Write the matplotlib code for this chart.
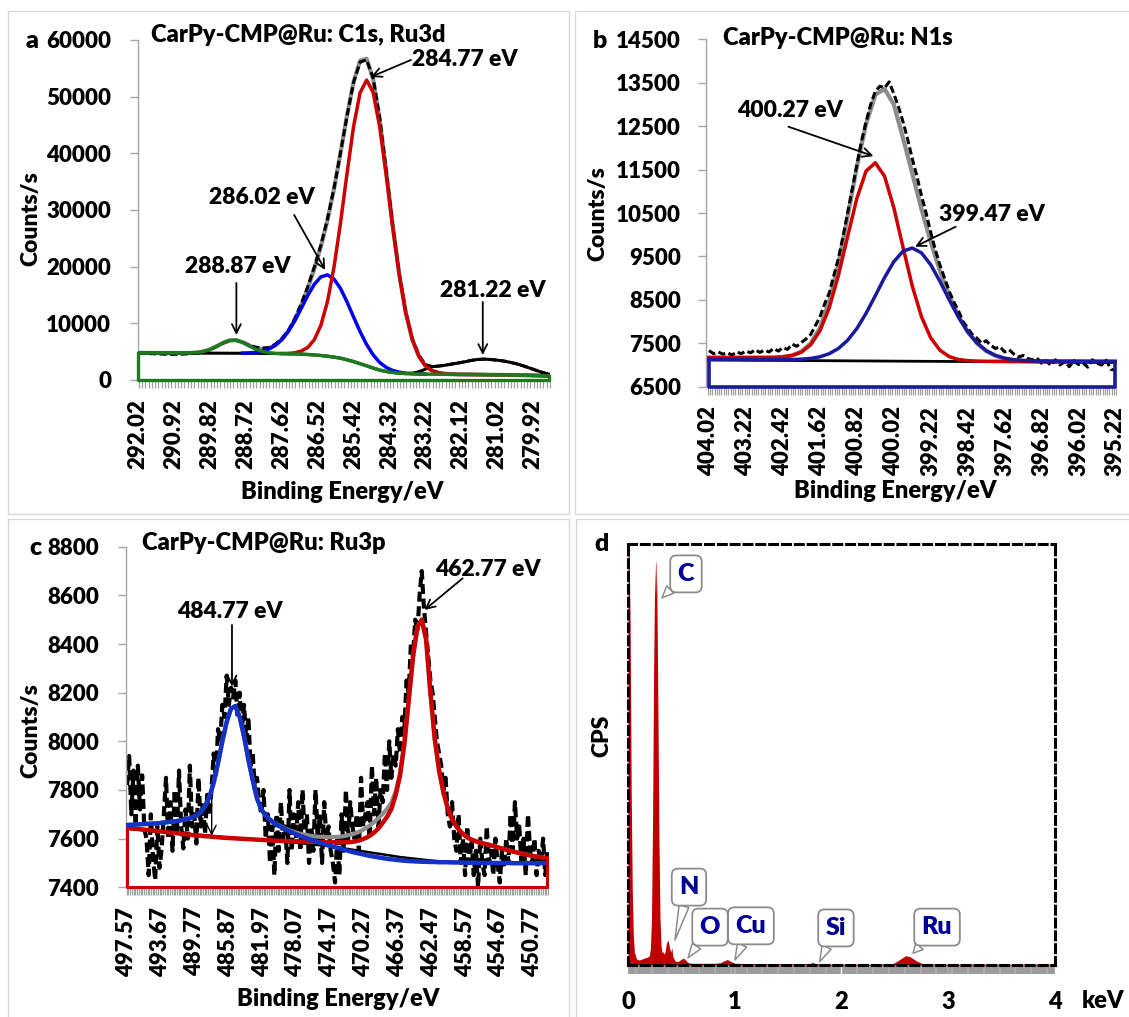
import numpy as np
import matplotlib
matplotlib.use('Agg')
import matplotlib.pyplot as plt
from matplotlib.patches import Rectangle
from matplotlib.ticker import MultipleLocator

# ---------------- DATA ----------------
# Panel a : C1s / Ru3d  (energy grid step 0.2 eV)
a_start = 292.02
a_raw = [4800, 4700, 4650, 4600, 4560, 4520, 4540, 4580, 4650, 4720,
         4950, 5330, 5900, 6500, 6950, 7000, 6680, 6120, 5800, 5650,
         5700, 6300, 7300, 8700, 10800, 13500, 16500, 20000, 23800, 28400,
         33800, 40100, 46600, 52500, 56100, 56500, 53300, 46300, 37000, 27400,
         18800, 12000, 7250, 4400, 2700, 2400, 2450, 2600, 2800, 3000,
         3200, 3450, 3620, 3680, 3620, 3500, 3350, 3120, 2850, 2500,
         2100, 1700, 1300, 1000]
a_env = [4780, 4776, 4772, 4768, 4764, 4760, 4756, 4752, 4783, 4849,
         5030, 5386, 5932, 6546, 6982, 7023, 6673, 6111, 5629, 5428,
         5586, 6139, 7144, 8638, 10668, 13212, 16203, 19623, 23546, 28165,
         33658, 40020, 46670, 52587, 56334, 56700, 53108, 46051, 36903, 27311,
         18689, 11902, 7173, 4197, 2527, 1670, 1274, 1100, 1030, 990,
         980, 970, 955, 940, 925, 910, 895, 880, 860, 840,
         820, 790, 750, 700]
a_black = [4780, 4776, 4772, 4768, 4764, 4760, 4756, 4752, 4748, 4744,
           4740, 4736, 4732, 4728, 4724, 4720, 4714, 4708, 4702, 4696,
           4685, 4670, 4650, 4625, 4595, 4560, 4500, 4420, 4320, 4200,
           4040, 3850, 3570, 3250, 2880, 2500, 2110, 1750, 1500, 1330,
           1210, 1130, 1200, 1450, 1900, 2350, 2450, 2600, 2800, 3000,
           3200, 3450, 3620, 3680, 3620, 3500, 3350, 3120, 2850, 2500,
           2100, 1700, 1300, 1000]
a_green = [4780, 4776, 4772, 4768, 4764, 4760, 4756, 4752, 4783, 4849,
           5030, 5386, 5932, 6546, 6982, 7023, 6642, 6033, 5449, 5042,
           4816, 4711, 4661, 4625, 4595, 4560, 4500, 4420, 4320, 4200,
           4040, 3850, 3570, 3250, 2880, 2500, 2110, 1750, 1500, 1330,
           1210, 1130, 1090, 1060, 1040, 1030, 1020, 1010, 1000, 990,
           980, 970, 955, 940, 925, 910, 895, 880, 860, 840,
           820, 790, 750, 700]
a_blue_start = 288.82
a_blue = [4745, 4786, 4882, 5082, 5455, 6098, 7109, 8564, 10460, 12676,
          14943, 16908, 18204, 18550, 17823, 16158, 13788, 11134, 8534, 6270,
          4446, 3096, 2221, 1689, 1376, 1202, 1119, 1070, 1044]
a_red_start = 287.62
a_red = [4674, 4699, 4803, 5096, 5760, 7135, 9662, 13815, 19875, 27712,
         36452, 44703, 50680, 52930, 50772, 44705, 36182, 26952, 18523, 11830,
         7144, 4187, 2523, 1670, 1274, 1100, 1030, 990, 980, 970,
         955, 940, 925, 910, 895, 880, 860, 840, 820, 790,
         750, 700]
a_xticks = [292.02, 290.92, 289.82, 288.72, 287.62, 286.52, 285.42, 284.32,
            283.22, 282.12, 281.02, 279.92]
a_yticks = [0, 10000, 20000, 30000, 40000, 50000, 60000]

# Panel b : N1s (fits step 0.2 eV, raw step 0.1 eV)
b_start = 404.02
b_red = [7170, 7170, 7170, 7170, 7170, 7170, 7171, 7173, 7186, 7218,
         7295, 7463, 7782, 8308, 9057, 9953, 10833, 11465, 11657, 11347,
         10628, 9713, 8821, 8110, 7623, 7340, 7193, 7127, 7100, 7090,
         7085, 7085, 7084, 7084, 7083, 7083, 7082, 7082, 7081, 7081,
         7081, 7080, 7080, 7080, 7080]
b_blue = [7130, 7129, 7128, 7127, 7125, 7124, 7123, 7122, 7123, 7125,
          7134, 7151, 7188, 7259, 7379, 7568, 7838, 8189, 8595, 9013,
          9377, 9620, 9694, 9582, 9308, 8925, 8502, 8101, 7764, 7508,
          7332, 7221, 7156, 7121, 7103, 7095, 7089, 7088, 7087, 7086,
          7085, 7083, 7082, 7081, 7080]
b_env = [7170, 7170, 7170, 7170, 7170, 7170, 7171, 7173, 7188, 7223,
         7310, 7497, 7854, 8452, 9322, 10408, 11559, 12543, 13220, 13360,
         13000, 12227, 11410, 10588, 9828, 9163, 8595, 8129, 7766, 7501,
         7321, 7211, 7146, 7113, 7095, 7088, 7082, 7082, 7081, 7081,
         7081, 7080, 7080, 7080, 7080]
b_raw = [7330, 7260, 7300, 7250, 7280, 7230, 7300, 7260, 7320, 7280,
         7350, 7290, 7340, 7300, 7380, 7320, 7400, 7360, 7480, 7430,
         7520, 7600, 7700, 7900, 8100, 8400, 8650, 9050, 9450, 9950,
         10500, 11050, 11600, 12150, 12600, 13000, 13300, 13420, 13380, 13520,
         13250, 12950, 12600, 12200, 11750, 11350, 10900, 10500, 10050, 9650,
         9300, 9000, 8700, 8450, 8250, 8000, 7850, 7700, 7620, 7500,
         7560, 7450, 7380, 7420, 7300, 7350, 7250, 7180, 7220, 7150,
         7120, 7160, 7040, 7100, 6990, 7120, 7000, 7080, 6960, 7100,
         7010, 7050, 6950, 7120, 7040, 7000, 7110, 6900, 6880]
b_bg_x = [404.02, 395.22]
b_bg_y = [7115, 7058]
b_xticks = [404.02, 403.22, 402.42, 401.62, 400.82, 400.02, 399.22, 398.42,
            397.62, 396.82, 396.02, 395.22]
b_yticks = [6500, 7500, 8500, 9500, 10500, 11500, 12500, 13500, 14500]

# Panel c : Ru3p (fits step 0.5 eV, raw step 0.25 eV)
c_start = 497.57
c_red = [7645, 7643, 7641, 7639, 7637, 7635, 7633, 7631, 7629, 7627,
         7625, 7623, 7621, 7619, 7617, 7615, 7613, 7612, 7610, 7609,
         7607, 7606, 7604, 7603, 7602, 7601, 7600, 7599, 7598, 7597,
         7596, 7595, 7594, 7593, 7592, 7591, 7590, 7590, 7589, 7589,
         7588, 7588, 7587, 7587, 7586, 7586, 7585, 7585, 7585, 7585,
         7585, 7585, 7587, 7590, 7595, 7602, 7612, 7625, 7642, 7665,
         7690, 7722, 7780, 7860, 7990, 8170, 8350, 8470, 8500, 8420,
         8200, 8010, 7880, 7790, 7725, 7680, 7650, 7628, 7612, 7600,
         7592, 7586, 7581, 7577, 7572, 7567, 7562, 7557, 7552, 7547,
         7543, 7539, 7535, 7531, 7528, 7525, 7522, 7519]
c_blue = [7656, 7657, 7658, 7659, 7660, 7661, 7662, 7663, 7665, 7667,
          7669, 7671, 7674, 7677, 7681, 7687, 7695, 7708, 7733, 7770,
          7830, 7910, 8000, 8080, 8135, 8145, 8100, 8020, 7925, 7840,
          7765, 7720, 7695, 7678, 7664, 7653, 7643, 7634, 7626, 7618,
          7611, 7604, 7598, 7592, 7586, 7580, 7575, 7570, 7565, 7560,
          7555, 7550, 7545, 7541, 7537, 7533, 7529, 7526, 7523, 7520,
          7517, 7515, 7513, 7511, 7509, 7508, 7507, 7506, 7505, 7505,
          7504, 7504, 7503, 7503, 7503, 7502, 7502, 7502, 7501, 7501,
          7501, 7501, 7500, 7500, 7500, 7500, 7500, 7500, 7500, 7499,
          7499, 7499, 7499, 7499, 7499, 7499, 7499, 7499]
c_env = [7656, 7657, 7658, 7659, 7660, 7661, 7662, 7663, 7665, 7667,
         7669, 7671, 7674, 7677, 7681, 7687, 7695, 7708, 7733, 7770,
         7830, 7910, 8000, 8080, 8135, 8145, 8100, 8020, 7925, 7840,
         7765, 7720, 7695, 7678, 7665, 7655, 7646, 7638, 7631, 7625,
         7620, 7616, 7613, 7610, 7608, 7607, 7606, 7606, 7607, 7608,
         7610, 7614, 7618, 7624, 7632, 7642, 7654, 7668, 7684, 7702,
         7722, 7748, 7795, 7870, 7995, 8172, 8351, 8471, 8500, 8420,
         8200, 8010, 7880, 7790, 7725, 7680, 7650, 7628, 7612, 7600,
         7592, 7586, 7581, 7577, 7572, 7567, 7562, 7557, 7552, 7547,
         7543, 7539, 7535, 7531, 7528, 7525, 7522, 7519]
c_raw = [7820, 7940, 7700, 7880, 7650, 7900, 7720, 7860, 7640, 7600,
         7450, 7700, 7520, 7430, 7650, 7480, 7560, 7700, 7850, 7600,
         7750, 7550, 7800, 7620, 7880, 7650, 7560, 7720, 7600, 7900,
         7650, 7700, 7580, 7850, 7650, 7750, 7620, 7780, 7700, 7800,
         7950, 7850, 8050, 8000, 8150, 8100, 8270, 8150, 8220, 8180,
         8250, 8100, 8200, 8050, 8150, 8000, 8100, 7900, 7950, 7800,
         7850, 7750, 7700, 7800, 7600, 7700, 7500, 7650, 7450, 7700,
         7550, 7750, 7600, 7650, 7500, 7800, 7550, 7700, 7600, 7750,
         7550, 7800, 7600, 7700, 7500, 7650, 7550, 7800, 7600, 7700,
         7500, 7750, 7600, 7650, 7550, 7500, 7420, 7600, 7450, 7700,
         7550, 7800, 7600, 7750, 7650, 7600, 7700, 7550, 7850, 7650,
         7700, 7750, 7600, 7900, 7700, 7850, 7650, 7800, 7750, 7950,
         7800, 8000, 7850, 7950, 7900, 8050, 7950, 8100, 8050, 8250,
         8200, 8400, 8350, 8500, 8450, 8600, 8700, 8550, 8450, 8350,
         8250, 8200, 8100, 8000, 7950, 7900, 7800, 7850, 7700, 7650,
         7750, 7600, 7550, 7700, 7500, 7600, 7450, 7650, 7500, 7600,
         7450, 7550, 7400, 7600, 7500, 7450, 7650, 7500, 7550, 7450,
         7600, 7500, 7420, 7550, 7480, 7600, 7500, 7700, 7550, 7750,
         7600, 7650, 7500, 7600, 7450, 7700, 7550, 7500, 7600, 7450,
         7550, 7500, 7600, 7450, 7550]
c_bg_x = [497.57, 490.0, 483.0, 478.0, 474.0, 470.0, 466.0, 462.0, 458.0, 454.0, 449.07]
c_bg_y = [7640, 7618, 7596, 7583, 7568, 7546, 7524, 7508, 7502, 7500, 7499]
c_xticks = [497.57, 493.67, 489.77, 485.87, 481.97, 478.07, 474.17, 470.27,
            466.37, 462.47, 458.57, 454.67, 450.77]
c_yticks = [7400, 7600, 7800, 8000, 8200, 8400, 8600, 8800]

# Panel d : EDX spectrum (keV, CPS relative)
d_kev = [0.000, 0.010, 0.020, 0.030, 0.040, 0.050, 0.060, 0.080, 0.100, 0.120,
         0.140, 0.160, 0.180, 0.200, 0.210, 0.220, 0.230, 0.240, 0.250, 0.260,
         0.270, 0.280, 0.290, 0.300, 0.310, 0.320, 0.330, 0.340, 0.350, 0.360,
         0.375, 0.390, 0.400, 0.410, 0.420, 0.440, 0.460, 0.480, 0.500, 0.520,
         0.540, 0.560, 0.600, 0.700, 0.800, 0.860, 0.900, 0.930, 0.960, 1.000,
         1.200, 1.500, 1.700, 1.730, 1.760, 2.000, 2.300, 2.480, 2.540, 2.600,
         2.640, 2.700, 2.760, 3.000, 3.500, 4.000]
d_cps = [1000, 1000, 800, 420, 180, 70, 30, 14, 12, 13,
         15, 17, 18, 22, 40, 110, 340, 700, 920, 962,
         900, 620, 300, 110, 45, 28, 32, 25, 35, 52,
         59, 40, 30, 42, 20, 10, 8, 10, 14, 16,
         12, 6, 4, 4, 4, 5, 10, 13, 9, 4,
         3, 3, 3, 6, 3, 2, 2, 3, 12, 22,
         20, 10, 3, 2, 2, 2]
d_labels = ['C', 'N', 'O', 'Cu', 'Si', 'Ru']
d_label_xy = [(0.543, 929), (0.571, 185), (0.768, 90), (1.152, 93), (1.948, 88), (2.895, 90)]
d_tip_xy = [(0.318, 872), (0.44, 59), (0.562, 17), (1.002, 12), (1.795, 8), (2.67, 28)]

# ---------------- STYLE ----------------
plt.rcParams['font.family'] = ['Lato', 'DejaVu Sans']
plt.rcParams['font.weight'] = 'heavy'

W, H = 1129, 1017
fig = plt.figure(figsize=(W / 100, H / 100), dpi=100)

RED = '#c00000'
GRAY = '#8c8c8c'
TICKGRAY = '#a0a0a0'


def fx(px):
    return px / W


def fy(py):
    return 1 - py / H


def ax_rect(l, t, r, b):
    return [fx(l), fy(b), (r - l) / W, (b - t) / H]


def ftext(px, py, s, **kw):
    fig.text(fx(px), fy(py), s, **kw)


def grid(start, vals, step):
    return start - step * np.arange(len(vals))


# panel frames
for (l, t, r, b) in [(8, 11, 569, 514), (575, 11, 1135, 514),
                     (8, 519, 569, 1025), (576, 519, 1135, 1025)]:
    fig.patches.append(Rectangle((fx(l), fy(b)), (r - l) / W, (b - t) / H,
                                 transform=fig.transFigure, fill=False,
                                 ec='#d9d9d9', lw=1.0))


def style_xps(ax, xticks, yticks, minor_step, ypad):
    for s in ['top', 'right', 'bottom']:
        ax.spines[s].set_visible(False)
    ax.spines['left'].set_color('#a6a6a6')
    ax.spines['left'].set_linewidth(1.0)
    ax.set_yticks(yticks)
    ax.set_yticklabels([str(v) for v in yticks])
    ax.tick_params(axis='y', direction='out', length=6, width=1,
                   color='#a6a6a6', pad=ypad, labelsize=16)
    ax.set_xticks(xticks)
    ax.set_xticklabels([f'{v:.2f}' for v in xticks], rotation=90)
    ax.xaxis.set_minor_locator(MultipleLocator(minor_step))
    ax.tick_params(axis='x', which='major', length=0, pad=14, labelsize=16)
    ax.tick_params(axis='x', which='minor', length=6, width=0.9,
                   color=TICKGRAY, direction='out')


def arrow(ax, start, tip, lw=1.3):
    ax.annotate('', xy=tip, xytext=start,
                arrowprops=dict(arrowstyle='->', color='black', lw=lw,
                                mutation_scale=16, shrinkA=0, shrinkB=0))


dash = (0, (2.4, 1.1))

# ---------------- PANEL A ----------------
axA = fig.add_axes(ax_rect(137.5, 40, 550, 380))
xa = grid(a_start, a_raw, 0.2)
axA.plot(xa, a_env, color=GRAY, lw=3.0, zorder=2)
axA.plot(xa, a_raw, color='black', lw=2.2, ls=dash, zorder=3)
axA.plot(xa, a_black, color='black', lw=2.2, zorder=3)
axA.plot(grid(a_blue_start, a_blue, 0.2), a_blue, color='#0000ee', lw=2.5, zorder=4)
axA.plot(grid(a_red_start, a_red, 0.2), a_red, color='#cc0000', lw=2.5, zorder=4)
axA.plot(xa, a_green, color='#1e7a1e', lw=2.5, zorder=5)
axA.plot([xa[-1], xa[-1], xa[0], xa[0]], [a_green[-1], 0, 0, a_green[0]],
         color='#1e7a1e', lw=2.4, zorder=5, clip_on=False)
axA.set_xlim(292.04, 279.40)
axA.set_ylim(0, 60000)
style_xps(axA, a_xticks, a_yticks, 0.1, 13)
for s, (tx, ty), st, tp in [
        ('284.77 eV', (282.0, 56480), (283.66, 56480), (284.89, 53480)),
        ('286.02 eV', (288.22, 32120), (287.24, 29120), (286.29, 19415)),
        ('288.87 eV', (288.98, 19945), (289.01, 17120), (289.01, 7940)),
        ('281.22 eV', (281.14, 15710), (281.46, 13770), (281.46, 4410))]:
    axA.text(tx, ty, s, ha='center', va='center', fontsize=16.5)
    arrow(axA, st, tp)

ftext(151, 42, 'CarPy-CMP@Ru: C1s, Ru3d', ha='left', va='baseline', fontsize=17)
ftext(32, 48, 'a', ha='center', va='baseline', fontsize=18)
ftext(31, 219, 'Counts/s', rotation=90, ha='center', va='center', fontsize=16.5)
ftext(342, 492, 'Binding Energy/eV', ha='center', va='center', fontsize=17)

# ---------------- PANEL B ----------------
axB = fig.add_axes(ax_rect(705.5, 39.3, 1116.5, 386.7))
xb = grid(b_start, b_red, 0.2)
axB.plot(xb, b_env, color=GRAY, lw=3.0, zorder=2)
axB.plot(grid(b_start, b_raw, 0.1), b_raw, color='black', lw=2.2, ls=dash, zorder=3)
axB.plot(b_bg_x, b_bg_y, color='black', lw=2.0, zorder=3)
axB.plot(xb, b_red, color='#cc0000', lw=2.5, zorder=4)
axB.plot(xb, b_blue, color='#1a1a9c', lw=2.5, zorder=5)
axB.plot([xb[-1], xb[-1], xb[0], xb[0]], [b_blue[-1], 6500, 6500, b_blue[0]],
         color='#1a1a9c', lw=2.6, zorder=5, clip_on=False)
axB.set_xlim(404.096, 395.198)
axB.set_ylim(6500, 14500)
style_xps(axB, b_xticks, b_yticks, 0.05, 11.5)
for s, (tx, ty), st, tp in [
        ('400.27 eV', (402.27, 12860), (402.30, 12487), (400.46, 11810)),
        ('399.47 eV', (397.90, 10470), (398.68, 10184), (399.56, 9724))]:
    axB.text(tx, ty, s, ha='center', va='center', fontsize=16.5)
    arrow(axB, st, tp)

ftext(723, 45, 'CarPy-CMP@Ru: N1s', ha='left', va='baseline', fontsize=17)
ftext(600, 48, 'b', ha='center', va='baseline', fontsize=18)
ftext(598, 214, 'Counts/s', rotation=90, ha='center', va='center', fontsize=16.5)
ftext(895, 491, 'Binding Energy/eV', ha='center', va='center', fontsize=17)

# ---------------- PANEL C ----------------
axC = fig.add_axes(ax_rect(125.5, 546.7, 549, 887.3))
xc = grid(c_start, c_red, 0.5)
axC.plot(grid(c_start, c_raw, 0.25), c_raw, color='black', lw=3.0, ls=dash, zorder=2)
axC.plot(xc, c_env, color=GRAY, lw=3.0, zorder=3)
axC.plot(c_bg_x, c_bg_y, color='black', lw=1.8, zorder=3)
axC.plot(xc, c_red, color='#cc0000', lw=3.2, zorder=4)
axC.plot(xc, c_blue, color='#1432c8', lw=3.2, zorder=5)
axC.plot([xc[-1], xc[-1], xc[0], xc[0]], [c_red[-1], 7400, 7400, c_red[0]],
         color='#cc0000', lw=2.2, zorder=5, clip_on=False)
axC.set_xlim(497.743, 448.89)
axC.set_ylim(7400, 8800)
style_xps(axC, c_xticks, c_yticks, 0.2, 13)
for s, (tx, ty), st, tp in [
        ('462.77 eV', (455.93, 8707), (458.85, 8670), (463.25, 8540)),
        ('484.77 eV', (485.75, 8533), (485.46, 8478), (485.46, 8225))]:
    axC.text(tx, ty, s, ha='center', va='center', fontsize=16.5)
    arrow(axC, st, tp)
arrow(axC, (487.8, 7830), (487.8, 7612), lw=1.0)

ftext(142, 550, 'CarPy-CMP@Ru: Ru3p', ha='left', va='baseline', fontsize=17)
ftext(35.5, 555, 'c', ha='center', va='baseline', fontsize=18)
ftext(31, 731, 'Counts/s', rotation=90, ha='center', va='center', fontsize=16.5)
ftext(338, 999, 'Binding Energy/eV', ha='center', va='center', fontsize=17)

# ---------------- PANEL D ----------------
axD = fig.add_axes(ax_rect(628, 544, 1055, 965))
poly = axD.fill_between(d_kev, 0, d_cps, color=RED, lw=0, zorder=2)
gy = np.linspace(0, 1000, 256)
img = np.ones((256, 1, 4))
img[:, 0, 3] = np.clip((gy - 870) / 95.0, 0, 1) * 0.9
im = axD.imshow(img, extent=[0.2, 0.33, 0, 1000], origin='lower',
                aspect='auto', zorder=3, interpolation='bilinear')
im.set_clip_path(poly.get_paths()[0], transform=axD.transData)
axD.set_xlim(0, 4)
axD.set_ylim(0, 1000)
for s in axD.spines.values():
    s.set_linestyle((0, (2.6, 1.6)))
    s.set_linewidth(2.2)
    s.set_color('black')
    s.set_zorder(6)
axD.set_yticks([])
axD.set_xticks([0, 1, 2, 3, 4])
axD.set_xticklabels(['0', '1', '2', '3', '4'])
axD.xaxis.set_minor_locator(MultipleLocator(0.01))
axD.tick_params(axis='x', which='major', length=0, pad=19, labelsize=17)
axD.tick_params(axis='x', which='minor', length=6.5, width=1.2, color='#9a9a9a')
for lab, (tx, ty), (px, py) in zip(d_labels, d_label_xy, d_tip_xy):
    axD.annotate(lab, xy=(px, py), xytext=(tx, ty), ha='center', va='center',
                 fontsize=18, color='#000099', zorder=7,
                 bbox=dict(boxstyle='round,pad=0.3,rounding_size=0.25',
                           fc='white', ec='#8c8c8c', lw=1.3),
                 arrowprops=dict(arrowstyle='wedge,tail_width=0.4,shrink_factor=0.5',
                                 fc='white', ec='#8c8c8c', lw=1.1,
                                 shrinkA=0, shrinkB=0))

ftext(602, 551, 'd', ha='center', va='baseline', fontsize=18)
ftext(602, 736, 'CPS', rotation=90, ha='center', va='center', fontsize=16.5)
ftext(1103, 1001, 'keV', ha='center', va='center', fontsize=17)

fig.savefig('out.png', dpi=100)
